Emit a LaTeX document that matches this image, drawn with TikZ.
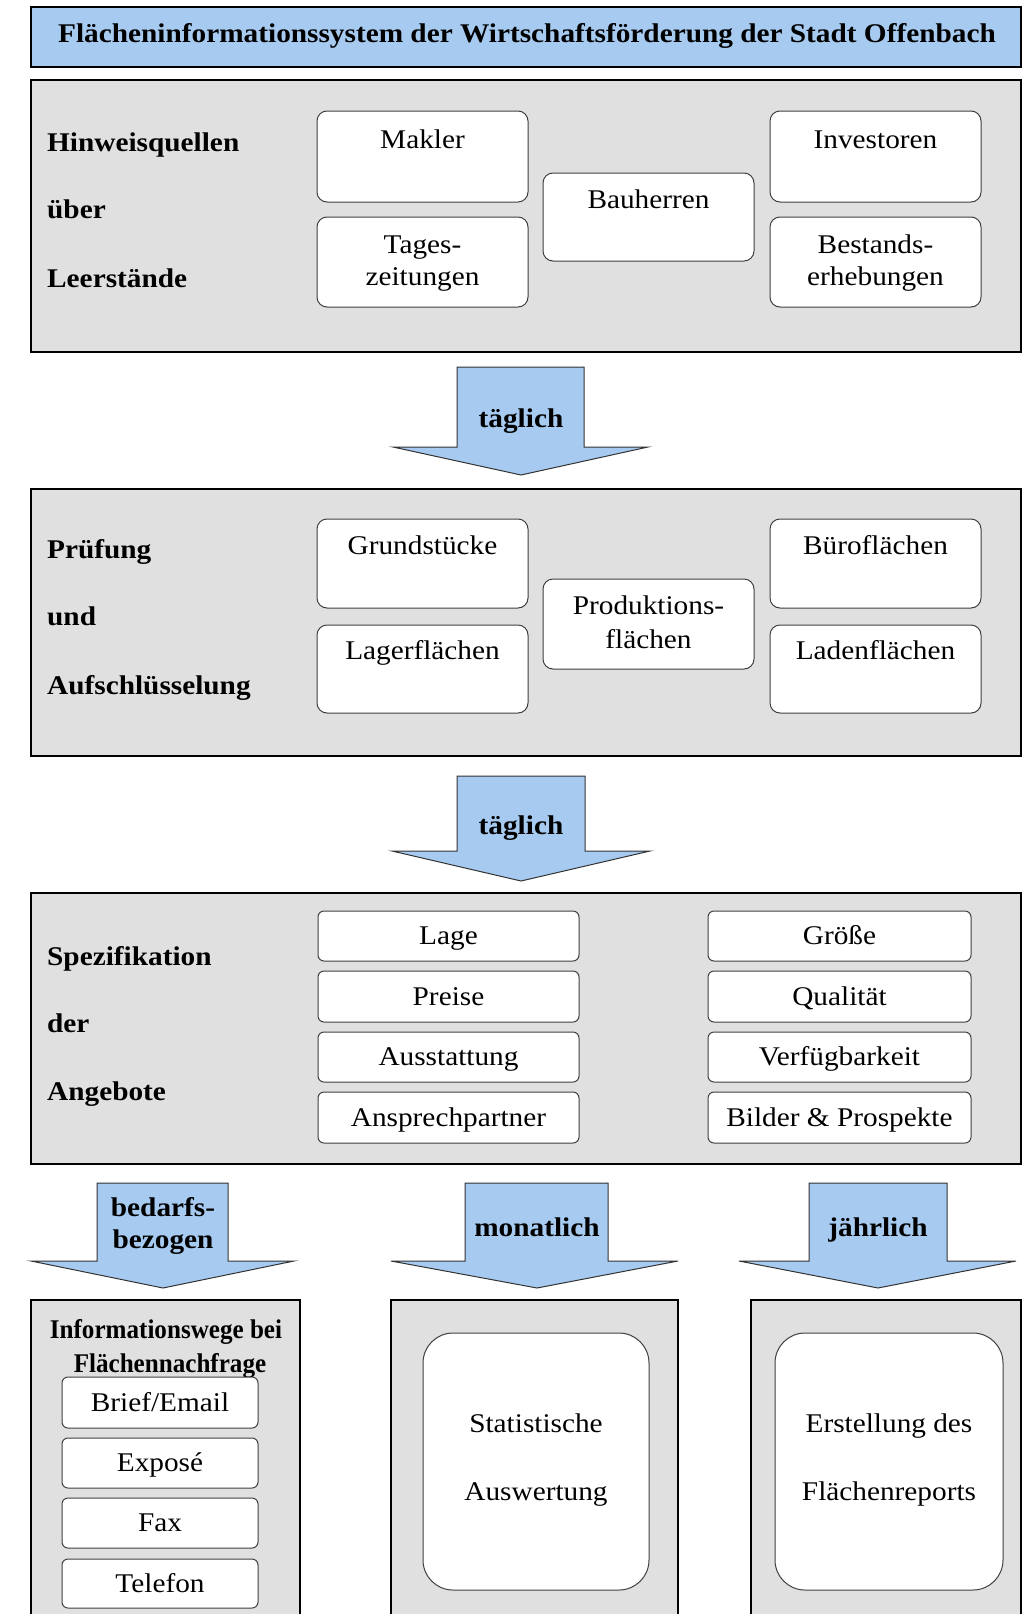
\documentclass[tikz,border=0pt]{standalone}
\usepackage{fontspec}
\setmainfont{Liberation Serif}[FakeStretch=1.085]
\newfontfamily\narrowserif{Liberation Serif}[FakeStretch=0.93]
\definecolor{arrowblue}{RGB}{166,202,240}
\definecolor{panelgray}{RGB}{224,224,224}
\tikzset{
  panel/.style={draw=black,line width=2pt,fill=panelgray,outer sep=0pt,inner sep=0pt,anchor=north west},
  card/.style={draw=black!75,line width=1pt,fill=white,rounded corners=10pt,outer sep=0pt,inner sep=0pt,
    anchor=north west,font=\fontsize{27}{30}\selectfont,text height=17pt,text depth=0pt},
  txt/.style={font=\fontsize{27}{30}\selectfont,inner sep=0pt,anchor=base},
  btxt/.style={font=\fontsize{27}{30}\selectfont\bfseries,inner sep=0pt,anchor=base},
  flow/.style={draw=black!80,line width=1pt,fill=arrowblue,line join=miter},
}
\begin{document}
\begin{tikzpicture}[x=1pt,y=-1pt]
\useasboundingbox (0,0) rectangle (1023,1614);
\clip (0,0) rectangle (1023,1614);
% title bar
\node[panel,fill=arrowblue,line width=1.5pt,minimum width=990,minimum height=60] (titel) at (31,7) {};
\node[btxt] (titeltext) at (527,42) {Flächeninformationssystem der Wirtschaftsförderung der Stadt Offenbach};
% sources of vacancy hints
\node[panel,minimum width=990,minimum height=272] (hinweis) at (31,80) {};
\node[btxt,anchor=base west] (hinweis1) at (47,151) {Hinweisquellen};
\node[btxt,anchor=base west] (hinweis2) at (47,218) {über};
\node[btxt,anchor=base west] (hinweis3) at (47,287) {Leerstände};
\node[card,minimum width=211,minimum height=91] (makler) at (317,111) {};
\node[card,minimum width=211,minimum height=90] (zeitung) at (317,217) {};
\node[card,minimum width=211,minimum height=88] (bauherr) at (543,173) {};
\node[card,minimum width=211,minimum height=91] (investor) at (770,111) {};
\node[card,minimum width=211,minimum height=90] (bestand) at (770,217) {};
\node[txt] (maklertext) at (422.5,148) {Makler};
\node[txt] (zeitungtext1) at (422.5,253) {Tages-};
\node[txt] (zeitungtext2) at (422.5,285) {zeitungen};
\node[txt] (bauherrtext) at (648.5,208) {Bauherren};
\node[txt] (investortext) at (875.5,148) {Investoren};
\node[txt] (bestandtext1) at (875.5,253) {Bestands-};
\node[txt] (bestandtext2) at (875.5,285) {erhebungen};
\path[flow,draw] (457,367) -- (584,367) -- (584,447) -- (648,447)
  -- (521,475) -- (393,447) -- (457,447) -- cycle;
\node[btxt] (takt1) at (521,427) {täglich};
% check and breakdown
\node[panel,minimum width=990,minimum height=267] (pruefung) at (31,489) {};
\node[btxt,anchor=base west] (pruefung1) at (47,558) {Prüfung};
\node[btxt,anchor=base west] (pruefung2) at (47,625) {und};
\node[btxt,anchor=base west] (pruefung3) at (47,694) {Aufschlüsselung};
\node[card,minimum width=211,minimum height=89] (grund) at (317,519) {};
\node[card,minimum width=211,minimum height=88] (lager) at (317,625) {};
\node[card,minimum width=211,minimum height=90] (produktion) at (543,579) {};
\node[card,minimum width=211,minimum height=89] (buero) at (770,519) {};
\node[card,minimum width=211,minimum height=88] (laden) at (770,625) {};
\node[txt] (grundtext) at (422.5,554) {Grundstücke};
\node[txt] (lagertext) at (422.5,659) {Lagerflächen};
\node[txt] (produktiontext1) at (648.5,614) {Produktions-};
\node[txt] (produktiontext2) at (648.5,648) {flächen};
\node[txt] (buerotext) at (875.5,554) {Büroflächen};
\node[txt] (ladentext) at (875.5,659) {Ladenflächen};
\path[flow,draw] (457,776) -- (585,776) -- (585,851) -- (650,851)
  -- (521,881) -- (392,851) -- (457,851) -- cycle;
\node[btxt] (takt2) at (521,834) {täglich};
% specification of offers
\node[panel,minimum width=990,minimum height=271] (spez) at (31,893) {};
\node[btxt,anchor=base west] (spez1) at (47,965) {Spezifikation};
\node[btxt,anchor=base west] (spez2) at (47,1032) {der};
\node[btxt,anchor=base west] (spez3) at (47,1100) {Angebote};
\node[card,rounded corners=6pt,minimum width=261,minimum height=50] (lage) at (318,911) {Lage};
\node[card,rounded corners=6pt,minimum width=261,minimum height=51] (preise) at (318,971) {Preise};
\node[card,rounded corners=6pt,minimum width=261,minimum height=50] (ausstattung) at (318,1032) {Ausstattung};
\node[card,rounded corners=6pt,minimum width=261,minimum height=51] (ansprech) at (318,1092) {Ansprechpartner};
\node[card,rounded corners=6pt,minimum width=263,minimum height=50] (groesse) at (708,911) {Größe};
\node[card,rounded corners=6pt,minimum width=263,minimum height=51] (qualitaet) at (708,971) {Qualität};
\node[card,rounded corners=6pt,minimum width=263,minimum height=50] (verfueg) at (708,1032) {Verfügbarkeit};
\node[card,rounded corners=6pt,minimum width=263,minimum height=51] (bilder) at (708,1092) {Bilder \& Prospekte};
% outputs
\path[flow,draw] (97,1183) -- (228,1183) -- (228,1261) -- (294,1261)
  -- (163,1288) -- (31,1261) -- (97,1261) -- cycle;
\node[btxt] (takt3a) at (163,1216) {bedarfs-};
\node[btxt] (takt3b) at (163,1248) {bezogen};
\path[flow,draw] (465,1183) -- (608,1183) -- (608,1261) -- (678,1261)
  -- (537,1288) -- (391,1261) -- (465,1261) -- cycle;
\node[btxt] (takt4) at (537,1236) {monatlich};
\path[flow,draw] (809,1183) -- (947,1183) -- (947,1261) -- (1016,1261)
  -- (878,1288) -- (739,1261) -- (809,1261) -- cycle;
\node[btxt] (takt5) at (878,1236) {jährlich};
\node[panel,minimum width=269,minimum height=340] (wege) at (31,1300) {};
\node[btxt,font=\fontsize{27}{30}\narrowserif\bfseries] (wegetext1) at (166,1338) {Informationswege bei};
\node[btxt,font=\fontsize{27}{30}\narrowserif\bfseries] (wegetext2) at (170,1372) {Flächennachfrage};
\node[card,rounded corners=6pt,minimum width=196,minimum height=51] (brief) at (62,1377) {Brief/Email};
\node[card,rounded corners=6pt,minimum width=196,minimum height=50] (expose) at (62,1438) {Exposé};
\node[card,rounded corners=6pt,minimum width=196,minimum height=50] (fax) at (62,1498) {Fax};
\node[card,rounded corners=6pt,minimum width=196,minimum height=49] (telefon) at (62,1559) {Telefon};
\node[panel,minimum width=287,minimum height=340] (statistik) at (391,1300) {};
\node[card,rounded corners=30pt,minimum width=226,minimum height=257] (statistikkarte) at (423,1333) {};
\node[txt] (statistiktext1) at (536,1432) {Statistische};
\node[txt] (statistiktext2) at (536,1500) {Auswertung};
\node[panel,minimum width=270,minimum height=340] (report) at (751,1300) {};
\node[card,rounded corners=30pt,minimum width=228,minimum height=257] (reportkarte) at (775,1333) {};
\node[txt] (reporttext1) at (889,1432) {Erstellung des};
\node[txt] (reporttext2) at (889,1500) {Flächenreports};
\end{tikzpicture}
\end{document}
